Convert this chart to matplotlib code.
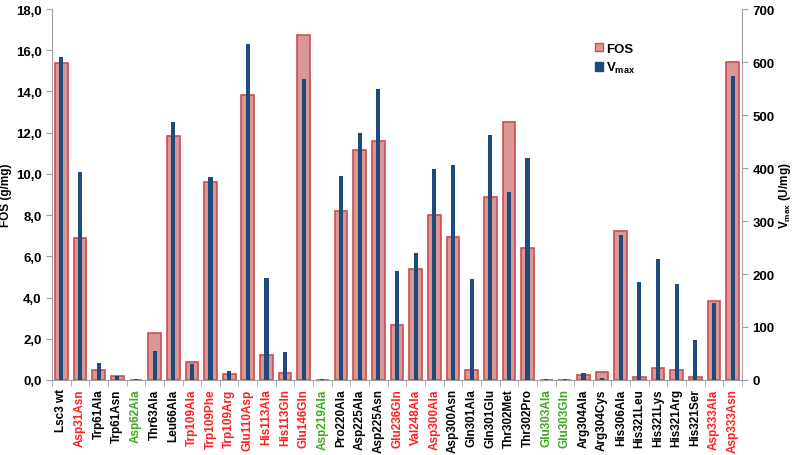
import matplotlib
matplotlib.use("Agg")
import matplotlib.pyplot as plt
import numpy as np
from matplotlib.patches import Patch
from matplotlib.ticker import FuncFormatter

plt.rcParams["font.family"] = ["Liberation Sans", "DejaVu Sans"]
plt.rcParams["font.weight"] = "bold"

# Варианты фермента и цвет подписи (группа мутаций)
variants = [
    "Lsc3 wt", "Asp31Asn", "Trp61Ala", "Trp61Asn", "Asp62Ala", "Thr63Ala", "Leu66Ala",
    "Trp109Ala", "Trp109Phe", "Trp109Arg", "Glu110Asp", "His113Ala", "His113Gln",
    "Glu146Gln", "Asp219Ala", "Pro220Ala", "Asp225Ala", "Asp225Asn", "Glu236Gln",
    "Val248Ala", "Asp300Ala", "Asp300Asn", "Gln301Ala", "Gln301Glu", "Thr302Met",
    "Thr302Pro", "Glu303Ala", "Glu303Gln", "Arg304Ala", "Arg304Cys", "His306Ala",
    "His321Leu", "His321Lys", "His321Arg", "His321Ser", "Asp333Ala", "Asp333Asn",
]
label_groups = [
    "k", "r", "k", "k", "g", "k", "k",
    "r", "r", "r", "r", "r", "r",
    "r", "g", "k", "k", "k", "r",
    "r", "r", "k", "k", "k", "k",
    "k", "g", "g", "k", "k", "k",
    "k", "k", "k", "k", "r", "r",
]

# FOS, g/mg (левая ось)
fos = [
    15.4, 6.9, 0.5, 0.2, 0.0, 2.3, 11.85,
    0.85, 9.6, 0.3, 13.85, 1.2, 0.35,
    16.75, 0.0, 8.2, 11.15, 11.6, 2.65,
    5.4, 8.0, 6.95, 0.5, 8.9, 12.5,
    6.4, 0.0, 0.0, 0.25, 0.4, 7.25,
    0.15, 0.6, 0.5, 0.15, 3.85, 15.45,
]
# Vmax, U/mg (правая ось)
vmax = [
    610, 393, 33, 8, 1, 54, 487,
    31, 383, 17, 634, 192, 52,
    568, 1, 385, 467, 549, 205,
    240, 399, 406, 191, 462, 354,
    418, 1, 1, 13, 3, 274,
    184, 228, 181, 75, 145, 573,
]

color_map = {"k": "black", "r": "#FF2020", "g": "#3BAA1E"}
fos_face = "#D99795"
fos_edge = "#C9504F"
vmax_color = "#1F4A7E"

fig = plt.figure(figsize=(7.94, 4.56), dpi=100)
ax1 = fig.add_axes([0.0655, 0.1645, 0.869, 0.8135])
ax2 = ax1.twinx()

x = np.arange(len(variants))
ax1.bar(x, fos, width=0.68, color=fos_face, edgecolor=fos_edge, linewidth=1.2, zorder=2)
ax2.bar(x, vmax, width=0.22, color=vmax_color, zorder=3)

ax1.set_xlim(-0.5, len(variants) - 0.5)
ax1.set_ylim(0, 18)
ax2.set_ylim(0, 700)
ax1.set_yticks(np.arange(0, 18.1, 2))
ax1.yaxis.set_major_formatter(FuncFormatter(lambda v, p: f"{v:.1f}".replace(".", ",")))
ax2.set_yticks(np.arange(0, 701, 100))

# Подписи по оси X: цвет по группе мутаций
ax1.set_xticks(x)
ax1.set_xticklabels(variants, rotation=90, fontsize=8.5, fontweight="bold")
for lbl, grp in zip(ax1.get_xticklabels(), label_groups):
    lbl.set_color(color_map[grp])
ax1.set_xticks(np.arange(-0.5, len(variants), 1), minor=True)
ax1.tick_params(axis="x", which="major", length=0, pad=6)
ax1.tick_params(axis="x", which="minor", length=4, color="#A0A0A0")

ax1.tick_params(axis="y", labelsize=9.5, length=4, color="#A0A0A0")
ax2.tick_params(axis="y", labelsize=9.5, length=4, color="#A0A0A0")
for lbl in ax1.get_yticklabels() + ax2.get_yticklabels():
    lbl.set_fontweight("bold")

for ax in (ax1, ax2):
    ax.spines["top"].set_visible(False)
    for side in ("left", "right", "bottom"):
        ax.spines[side].set_color("#A0A0A0")
ax1.spines["right"].set_visible(False)
ax2.spines["left"].set_visible(False)
ax2.spines["bottom"].set_visible(False)

ax1.set_ylabel("FOS (g/mg)", fontsize=8.5, fontweight="bold", labelpad=3)
ax2.set_ylabel(r"V$_{\mathregular{max}}$ (U/mg)", fontsize=8.5, fontweight="bold", labelpad=2)

handles = [
    Patch(facecolor=fos_face, edgecolor=fos_edge, label="FOS"),
    Patch(facecolor=vmax_color, edgecolor=vmax_color, label=r"V$_{\mathregular{max}}$"),
]
fig.legend(
    handles=handles,
    loc="upper left",
    bbox_to_anchor=(0.735, 0.93),
    frameon=False,
    handlelength=0.6,
    handleheight=0.6,
    handletextpad=0.2,
    labelspacing=0.4,
    prop={"size": 9.5, "weight": "bold"},
)

fig.savefig("out.png", dpi=100)
plt.close(fig)
